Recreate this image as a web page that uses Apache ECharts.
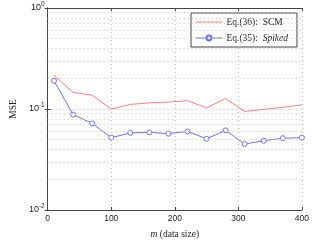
<!DOCTYPE html>
<html><head><meta charset="utf-8">
<script src="https://cdn.jsdelivr.net/npm/echarts@6/dist/echarts.min.js"></script>
<style>html,body{margin:0;padding:0;background:#fff}#c{width:312px;height:244px}</style>
</head><body><div id="c"></div>
<script>
const m = [10, 40, 70, 100, 130, 160, 190, 220, 250, 280, 310, 340, 370, 400];
const scm = [0.215, 0.146, 0.137, 0.100, 0.111, 0.115, 0.117, 0.121, 0.1026, 0.127, 0.0946, 0.099, 0.104, 0.110];
const spiked = [0.19, 0.088, 0.072, 0.052, 0.058, 0.0587, 0.057, 0.060, 0.0507, 0.0614, 0.045, 0.0485, 0.0514, 0.052];
const xTicks = [0, 100, 200, 300, 400];
const minorGrid = [0.02,0.03,0.04,0.05,0.06,0.07,0.08,0.09,0.2,0.3,0.4,0.5,0.6,0.7,0.8,0.9];
const seriesNames = ['Eq.(36):  SCM', 'Eq.(35):  Spiked'];

const chart = echarts.init(document.getElementById('c'), null, {renderer: 'canvas'});
const sans = 'Liberation Sans';
const serif = 'Liberation Serif';
const gridDot = {show: true, lineStyle: {color: '#c4c4c4', type: [1, 3], width: 1}};
const tickIn = {show: true, inside: true, length: 3, lineStyle: {color: '#444'}};
const axLine = {show: true, lineStyle: {color: '#444', width: 1}};
const supLabel = {
  fontFamily: sans, fontSize: 9, color: '#222', margin: 3,
  formatter: v => '10{s|' + Math.round(Math.log10(v)) + '}',
  rich: {s: {fontSize: 6.5, fontFamily: sans, verticalAlign: 'top', padding: [0,0,7,0], color: '#222'}}
};
chart.setOption({
  animation: false,
  grid: {left: 34.5, right: 10, top: 8, bottom: 27},
  xAxis: [{
    type: 'value', min: xTicks[0], max: xTicks[xTicks.length-1], interval: 100,
    axisLine: axLine, axisTick: tickIn, splitLine: gridDot,
    axisLabel: {fontFamily: sans, fontSize: 8.5, color: '#222', margin: 4},
    name: '{i|m} (data size)', nameLocation: 'middle', nameGap: 19,
    nameTextStyle: {fontFamily: serif, fontSize: 9.5, color: '#222', rich: {i: {fontStyle: 'italic', fontFamily: serif, fontSize: 9.5, color: '#222'}}}
  }, {
    type: 'value', position: 'top', min: xTicks[0], max: xTicks[xTicks.length-1], interval: 100,
    axisLine: axLine, axisTick: tickIn, splitLine: {show: false}, axisLabel: {show: false}
  }],
  yAxis: [{
    type: 'log', logBase: 10, min: 0.01, max: 1,
    axisLine: axLine, axisTick: tickIn, splitLine: gridDot,
    axisLabel: supLabel,
    name: 'MSE', nameLocation: 'middle', nameGap: 20, nameRotate: 90,
    nameTextStyle: {fontFamily: serif, fontSize: 9.5, color: '#222'}
  }, {
    type: 'log', logBase: 10, min: 0.01, max: 1, position: 'right',
    axisLine: axLine, axisTick: tickIn, splitLine: {show: false}, axisLabel: {show: false}
  }],
  legend: {
    orient: 'vertical', left: 191, top: 13, right: 'auto',
    padding: [4, 9, 4, 4], itemGap: 6, itemWidth: 27, itemHeight: 6,
    backgroundColor: '#fff', borderColor: '#444', borderWidth: 1,
    lineStyle: {width: 1},
    data: [{name: seriesNames[0], itemStyle: {opacity: 0}}, {name: seriesNames[1]}],
    formatter: n => n.indexOf('Spiked') >= 0 ? 'Eq.(35):  {i|Spiked}' : n,
    textStyle: {fontFamily: serif, fontSize: 9.5, color: '#222', padding: [0,0,0,-1],
      rich: {i: {fontStyle: 'italic', fontFamily: serif, fontSize: 9.5, color: '#222'}}}
  },
  series: [{
    name: seriesNames[0], type: 'line', symbol: 'none',
    data: m.map((x, i) => [x, scm[i]]),
    lineStyle: {color: '#ff8080', width: 1}, itemStyle: {color: '#ff8080'},
    markLine: {silent: true, symbol: 'none', label: {show: false}, animation: false,
      lineStyle: {color: '#c4c4c4', type: [1, 3], width: 1},
      data: minorGrid.map(v => ({yAxis: v}))}, z: 1
  }, {
    name: seriesNames[1], type: 'line', symbol: 'circle', symbolSize: 5,
    data: m.map((x, i) => [x, spiked[i]]),
    lineStyle: {color: '#7070ff', width: 1},
    itemStyle: {color: '#fff', borderColor: '#7070ff', borderWidth: 1}, z: 3
  }]
});
</script></body></html>
